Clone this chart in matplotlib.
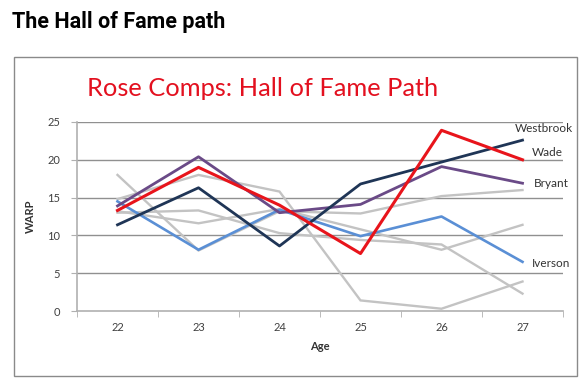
import matplotlib.pyplot as plt
from matplotlib.patches import Rectangle

ages = [22, 23, 24, 25, 26, 27]

# grey comparison players
grey_series = [
    [18.0, 8.0, 13.2, 12.9, 15.2, 16.0],
    [13.0, 13.3, 10.3, 9.4, 8.8, 2.3],
    [13.2, 11.6, 13.5, 10.8, 8.1, 11.4],
    [14.8, 18.0, 15.8, 1.4, 0.3, 3.9],
]

iverson = [14.5, 8.1, 13.4, 9.9, 12.5, 6.5]
bryant = [13.9, 20.4, 13.0, 14.1, 19.1, 16.9]
westbrook = [11.4, 16.3, 8.6, 16.8, 19.7, 22.6]
wade = [13.3, 19.0, 14.0, 7.6, 23.9, 20.0]

yticks = [0, 5, 10, 15, 20, 25]

fig = plt.figure(figsize=(5.86, 3.81), dpi=100)
fig.patch.set_facecolor('white')

# outer frame around the embedded chart
fig.patches.append(Rectangle((14 / 586, 1 - 376 / 381), (577 - 14) / 586, (376 - 57) / 381,
                             transform=fig.transFigure, fill=False,
                             edgecolor='#8a8a8a', linewidth=1.0))

fig.text(12 / 586, 1 - 22 / 381, 'The Hall of Fame path', fontsize=15.5,
         fontweight='bold', family='Roboto', va='center', ha='left', color='black')
fig.text(263 / 586, 1 - 88 / 381, 'Rose Comps: Hall of Fame Path', fontsize=18.3,
         family='Lato', color='#e3101f', va='center', ha='center')

ax = fig.add_axes([77 / 586, 1 - 311 / 381, (563 - 77) / 586, (311 - 122) / 381])
ax.set_xlim(21.5, 27.5)
ax.set_ylim(0, 25)

for s in grey_series:
    ax.plot(ages, s, color='#c3c3c3', lw=1.7, solid_joinstyle='miter', zorder=2)
ax.plot(ages, iverson, color='#5a8fd5', lw=1.9, zorder=3)
ax.plot(ages, bryant, color='#6a4a87', lw=2.0, zorder=3)
ax.plot(ages, westbrook, color='#1f3556', lw=2.0, zorder=4)
ax.plot(ages, wade, color='#e8141b', lw=2.2, zorder=5)

lab = dict(fontsize=8.5, family='Lato', color='#333333', va='center', ha='left')
ax.text(26.9, 24.2, 'Westbrook', **lab)
ax.text(27.12, 21.0, 'Wade', **lab)
ax.text(27.14, 16.8, 'Bryant', **lab)
ax.text(27.12, 6.3, 'Iverson', **lab)

ax.set_yticks(yticks)
ax.set_yticklabels([str(v) for v in yticks], fontsize=8, color='#404040', family='Lato')
ax.set_xticks(ages)
ax.set_xticklabels([str(a) for a in ages], fontsize=8, color='#404040', family='Lato')
ax.set_xticks([a + 0.5 for a in [21] + ages], minor=True)
ax.tick_params(axis='x', which='major', length=0, pad=8)
ax.tick_params(axis='x', which='minor', length=4, color='#b0b0b0', direction='out')
ax.tick_params(axis='y', length=4, color='#b0b0b0', pad=8)

for v in yticks[1:]:
    ax.axhline(v, color='#909090', lw=1.0, zorder=1)

for side in ['top', 'right']:
    ax.spines[side].set_visible(False)
for side in ['left', 'bottom']:
    ax.spines[side].set_color('#b0b0b0')
    ax.spines[side].set_linewidth(1.2)

ax.set_xlabel('Age', fontsize=8, fontweight='bold', color='#333333', family='Lato', labelpad=6)
ax.set_ylabel('WARP', fontsize=8, fontweight='bold', color='#333333', family='Lato', labelpad=8)

fig.savefig('out.png', dpi=100)
